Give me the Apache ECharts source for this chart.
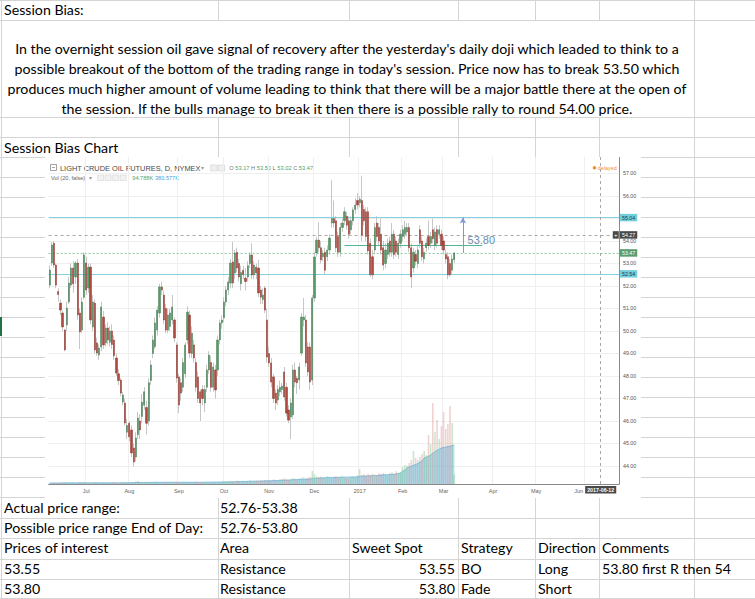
<!DOCTYPE html>
<html>
<head>
<meta charset="utf-8">
<script src="https://cdn.jsdelivr.net/npm/echarts@6/dist/echarts.min.js"></script>
<style>
html,body{margin:0;padding:0;background:#fff;}
#page{position:relative;width:755px;height:599px;overflow:hidden;background:#fff;}
.h{position:absolute;height:1px;background:#d4d4d4;}
.v{position:absolute;width:1px;background:#d4d4d4;}
.t{position:absolute;font-family:Lato,'Noto Sans',sans-serif;font-size:13px;line-height:20px;color:#000;white-space:nowrap;}
.r{text-align:right;}
#para{left:0;top:39px;width:694px;text-align:center;}
#chart{position:absolute;left:45px;top:157px;width:596px;height:341px;background:#fff;z-index:2;}
#sel{position:absolute;left:0;top:317px;width:2px;height:19px;background:#217346;}
#measure{position:absolute;visibility:hidden;}
</style>
</head>
<body>
<div id="page">
  <div id="lines"></div>
  <div class="t" style="left:4px;top:0px;">Session Bias:</div>
  <div class="t" id="para">In the overnight session oil gave signal of recovery after the yesterday's daily doji which leaded to think to a<br>possible breakout of the bottom of the trading range in today's session. Price now has to break 53.50 which<br>produces much higher amount of volume leading to think that there will be a major battle there at the open of<br>the session. If the bulls manage to break it then there is a possible rally to round 54.00 price.</div>
  <div class="t" style="left:4px;top:138px;">Session Bias Chart</div>

  <div class="t" style="left:4px;top:498px;">Actual price range:</div>
  <div class="t" style="left:220px;top:498px;">52.76-53.38</div>
  <div class="t" style="left:4px;top:518px;">Possible price range End of Day:</div>
  <div class="t" style="left:220px;top:518px;">52.76-53.80</div>
  <div class="t" style="left:4px;top:538px;">Prices of interest</div>
  <div class="t" style="left:220px;top:538px;">Area</div>
  <div class="t" style="left:352px;top:538px;">Sweet Spot</div>
  <div class="t" style="left:461px;top:538px;">Strategy</div>
  <div class="t" style="left:538px;top:538px;">Direction</div>
  <div class="t" style="left:602px;top:538px;">Comments</div>
  <div class="t" style="left:4px;top:559px;">53.55</div>
  <div class="t" style="left:220px;top:559px;">Resistance</div>
  <div class="t r" style="left:350px;width:105px;top:559px;">53.55</div>
  <div class="t" style="left:461px;top:559px;">BO</div>
  <div class="t" style="left:538px;top:559px;">Long</div>
  <div class="t" style="left:602px;top:559px;">53.80 first R then 54</div>
  <div class="t" style="left:4px;top:579px;">53.80</div>
  <div class="t" style="left:220px;top:579px;">Resistance</div>
  <div class="t r" style="left:350px;width:105px;top:579px;">53.80</div>
  <div class="t" style="left:461px;top:579px;">Fade</div>
  <div class="t" style="left:538px;top:579px;">Short</div>

  <div id="sel"></div>
  <div id="chart"></div>
  <span class="t" id="measure">In the overnight session oil gave signal of recovery after the yesterday's daily doji which leaded to think to a</span>
</div>
<script>
// ---------------- spreadsheet grid (layout only) ----------------
(function(){
  const lines = document.getElementById('lines');
  const rows = [0, 20, 117, 137, 157, 177, 197, 217, 237, 257, 277, 297, 317, 337, 357, 377, 397, 417, 437, 457, 477, 497, 518, 538, 559, 579, 598];
  rows.forEach(y => { const d = document.createElement('div'); d.className = 'h'; d.style.left = '0px'; d.style.width = '755px'; d.style.top = y + 'px'; lines.appendChild(d); });
  const cols = [218, 349, 458, 535, 599];
  const segs = [[0, 20], [117, 157], [497, 599]];
  cols.forEach(x => segs.forEach(s => { const d = document.createElement('div'); d.className = 'v'; d.style.left = x + 'px'; d.style.top = s[0] + 'px'; d.style.height = (s[1] - s[0]) + 'px'; lines.appendChild(d); }));
  [1, 694].forEach(x => { const d = document.createElement('div'); d.className = 'v'; d.style.left = x + 'px'; d.style.top = '0px'; d.style.height = '599px'; lines.appendChild(d); });
  const m = document.getElementById('measure');
  const w = m.getBoundingClientRect().width;
  const size = 13 * 664 / w;
  document.querySelectorAll('.t').forEach(el => { el.style.fontSize = size.toFixed(2) + 'px'; });
})();

// ---------------- data ----------------
const firstTradeDay = '2016-06-08';
const axisLastDay = '2017-06-22';
const marketHolidays = ['2016-07-04', '2016-09-05', '2016-11-24', '2016-12-26', '2017-01-02', '2017-01-16', '2017-02-20'];
const monthNames = ['Jan', 'Feb', 'Mar', 'Apr', 'May', 'Jun', 'Jul', 'Aug', 'Sep', 'Oct', 'Nov', 'Dec'];
const priceTicks = [44, 45, 46, 47, 48, 49, 50, 51, 52, 53, 54, 55, 56, 57];

const openPrices = [
52.04,53.02,53.9,52.93,51.75,51.24,50.8,50.04,50.27,51.29,
52.04,52.8,52.4,53.02,50.8,50.04,51.5,53.02,51.91,52.84,
50.18,51.24,49.47,48.93,49.29,50.62,49.47,50.13,49.5,50.0,
49.6,48.8,48.1,47.82,46.84,46.8,45.5,45.9,45.6,44.8,
44.4,45.4,46.0,46.2,46.7,46.6,46.0,47.8,49.0,49.3,
50.04,50.8,51.96,51.6,51.0,50.04,50.2,50.49,50.49,49.38,
47.96,47.7,47.5,48.1,49.6,50.71,49.0,49.38,48.6,47.96,
47.3,47.4,46.8,47.5,48.27,48.6,47.5,48.27,48.27,49.6,
50.36,50.58,51.29,51.82,52.13,53.07,52.58,53.5,53.0,52.1,
52.7,52.35,52.4,53.0,53.38,52.5,52.84,52.8,51.82,51.4,
51.91,50.49,49.0,48.58,47.96,47.24,46.93,47.3,47.4,48.18,
47.5,46.49,46.18,46.27,48.27,47.9,47.82,
49.02,50.49,50.49,49.29,49.29,47.82,51.47,53.47,54.04,53.7,
53.3,53.5,53.3,53.6,54.8,55.0,54.9,54.2,53.5,54.6,
54.9,55.1,54.9,54.5,54.9,55.4,55.8,55.7,55.8,55.4,
55.3,55.3,53.9,53.3,53.6,54.8,54.6,54.3,53.7,53.0,
53.4,54.0,53.5,54.3,54.0,53.4,53.9,54.2,54.3,54.4,
54.6,53.7,52.8,53.4,53.0,54.5,54.0,53.2,53.7,54.2,
53.9,54.5,53.8,54.5,54.3,54.3,54.0,53.4,53.3,53.0,
52.7,53.17];

const closePrices = [
52.71,53.82,52.93,52.04,51.62,50.93,50.18,49.16,51.02,52.13,
52.8,52.1,53.02,50.71,49.96,51.29,53.38,51.82,52.84,50.49,
51.29,49.16,49.02,49.24,51.07,49.38,50.13,49.6,50.0,49.4,
48.9,48.13,47.8,47.24,47.16,45.91,45.8,45.3,44.58,44.18,
45.24,46.13,45.6,46.84,47.3,45.9,47.7,48.49,49.6,50.36,
50.93,51.96,51.82,50.49,50.04,50.71,50.8,51.07,49.69,47.91,
46.71,47.24,48.6,49.38,50.84,49.02,49.9,48.8,47.5,47.0,
46.8,47.0,47.4,48.27,48.93,47.5,48.4,47.38,49.6,50.36,
50.49,51.29,51.82,52.18,53.02,52.13,53.47,52.8,52.4,52.6,
52.5,52.2,52.9,53.38,52.49,52.93,52.58,51.69,51.5,51.6,
50.93,48.84,48.58,47.73,47.0,46.8,47.4,47.5,47.55,47.07,
46.35,46.04,46.8,48.27,47.73,47.7,48.4,
50.62,50.62,48.58,48.18,47.73,51.47,53.29,54.04,53.7,53.16,
53.45,52.7,53.6,54.13,55.0,54.8,53.7,53.5,54.6,54.8,
55.3,54.7,54.3,54.9,55.38,55.6,55.6,55.85,54.27,54.9,
54.2,53.56,52.5,52.5,54.6,54.2,54.0,53.6,52.93,53.6,
53.9,53.5,54.3,53.4,53.5,53.9,54.3,54.5,54.6,54.6,
53.7,52.4,53.5,53.1,53.6,53.9,53.3,53.5,53.9,53.8,
54.2,54.1,54.4,53.9,54.5,53.8,53.6,53.2,52.5,52.5,
53.2,53.47];

const lowPrices = [
51.9,52.9,52.8,51.9,51.3,50.7,50.0,49.1,50.0,51.2,
51.9,51.7,52.1,50.5,49.2,49.9,51.4,51.6,51.7,50.3,
50.0,49.0,48.9,48.7,49.1,49.2,49.3,49.4,49.3,49.2,
48.7,48.0,47.6,47.1,46.7,45.8,45.2,45.1,44.4,43.97,
44.2,45.2,45.2,45.9,46.5,45.4,45.8,47.6,48.8,49.2,
49.8,50.6,51.6,50.3,49.9,49.9,50.0,50.3,49.5,47.7,
46.35,46.9,47.3,47.9,49.4,48.8,48.8,48.6,47.3,46.8,
46.0,46.7,46.4,47.3,48.1,47.3,47.3,47.0,48.0,49.4,
50.1,50.4,51.1,51.6,51.9,51.9,52.3,52.6,52.2,51.8,
52.3,51.8,52.2,52.8,52.3,52.3,52.3,51.5,51.2,51.2,
50.8,48.6,48.4,47.5,46.8,46.49,46.7,47.1,47.2,46.9,
46.2,45.9,45.2,46.1,47.5,47.2,47.4,
48.9,50.2,48.4,48.0,47.38,47.6,51.3,53.3,53.5,53.0,
53.1,52.5,53.1,53.4,54.6,54.6,53.5,53.3,53.3,54.4,
54.7,54.5,54.1,54.3,54.7,55.2,55.4,55.5,54.0,54.7,
54.0,53.4,52.4,52.3,53.4,54.0,53.8,53.4,52.7,52.8,
53.2,53.3,53.3,53.2,53.3,53.2,53.7,54.0,54.1,54.2,
53.5,51.9,52.6,52.9,52.8,53.7,53.1,53.0,53.5,53.6,
53.7,53.9,53.6,53.7,54.1,53.6,53.4,53.0,52.3,52.4,
52.5,53.02];

const highPrices = [
52.9,53.95,54.0,53.0,51.9,51.4,50.9,50.1,51.3,52.4,
53.0,53.1,53.1,53.2,51.0,51.5,53.5,53.3,53.0,53.0,
51.6,51.4,49.7,49.4,51.3,50.9,50.3,50.4,50.2,50.3,
49.8,49.0,48.3,47.9,47.3,47.0,46.1,46.0,45.8,45.0,
45.5,46.4,46.3,47.2,47.5,46.9,47.9,48.7,49.8,50.6,
51.1,52.1,52.2,51.8,51.2,51.0,51.0,51.6,50.6,49.5,
48.1,47.9,48.8,49.5,51.1,50.9,50.2,49.6,48.8,48.2,
47.4,47.6,47.6,48.5,49.1,48.9,48.6,48.5,49.8,50.5,
50.7,51.5,52.0,52.4,53.2,53.96,53.6,53.7,53.2,52.9,
52.9,52.8,53.1,53.5,53.9,53.1,53.0,53.16,52.0,51.9,
52.0,51.0,49.3,48.8,48.1,47.4,47.6,47.8,47.7,48.4,
47.7,46.7,47.0,48.5,48.6,48.0,48.6,
50.8,51.47,50.7,49.5,49.5,51.6,53.5,54.2,54.84,54.0,
53.6,53.7,53.8,54.3,56.7,55.8,55.1,54.4,54.8,55.0,
55.5,55.3,55.1,55.1,55.5,55.9,56.13,56.0,56.9,55.6,
55.5,55.5,54.1,53.6,54.8,55.1,54.8,55.0,54.0,53.9,
54.1,54.2,54.8,54.5,54.2,54.1,54.5,54.7,54.9,54.8,
54.8,53.9,53.7,53.6,53.8,54.7,54.2,53.7,54.1,54.9,
54.4,55.0,54.6,54.7,54.7,54.5,54.2,53.6,53.5,53.2,
53.4,53.5];

// volume in thousands of contracts, and the 20-bar volume average
const volumeK = [
12,10,14,9,11,13,10,15,12,9,11,14,10,12,16,11,13,
10,12,9,11,14,12,10,13,15,11,12,10,14,16,12,11,13,15,12,14,
16,14,18,24,29,20,17,15,19,16,14,18,21,17,15,13,16,18,14,17,19,15,18,
16,14,17,19,15,18,20,16,22,18,15,17,21,19,16,18,24,20,17,19,22,
25,29,22,31,26,24,34,29,27,31,25,28,36,30,27,33,29,35,31,38,34,
39,35,44,40,37,47,50,55,45,41,49,58,52,47,55,61,66,53,60,70,127,
98,74,66,72,60,64,78,70,62,68,75,66,72,80,64,60,57,70,76,68,86,
146,90,95,82,98,88,101,92,86,104,97,108,99,90,105,114,101,124,111,118,
166,185,176,205,234,322,254,234,264,293,322,283,478,390,790,507,625,439,566,
703,537,586,761,595,94.788];

const volumeMaK = [
10,10,10,10,10,10,11,11,11,11,11,11,11,11,12,12,12,
12,12,12,12,12,12,12,12,12,12,12,12,12,12,12,12,12,13,13,13,
13,13,14,14,15,15,15,16,16,16,16,16,17,17,17,17,17,17,17,17,17,17,17,
17,17,17,17,17,17,17,17,17,17,17,17,18,18,18,18,18,18,19,19,19,
20,20,21,21,22,22,23,24,24,25,25,26,26,27,28,28,29,29,30,30,31,
31,32,33,33,34,35,36,37,38,39,40,41,42,43,44,45,46,47,48,49,53,
56,57,58,59,60,61,62,63,64,64,65,65,66,66,67,67,68,68,69,69,70,
75,76,77,78,79,80,81,82,83,85,87,88,89,90,92,93,95,98,101,104,
127,135,156,165,174,182,190,200,212,226,254,262,271,283,300,315,330,340,351,
356,360,365,370,375,380.577];

// drawn levels and annotations
const upperRangeLine = 55.04;
const lowerRangeLine = 52.54;
const crosshairPrice = 54.27;
const crosshairDate = '2017-06-12';
const targetPrice = 53.80;
const targetFrom = '2016-12-21';
const targetTo = '2017-03-27';
const arrowDate = '2017-03-14';
const plusMarkDate = '2017-06-21';

// ---------------- derived structures ----------------
function tradingDays(first, last, holidays) {
  const out = [];
  let t = Date.parse(first + 'T00:00:00Z');
  const end = Date.parse(last + 'T00:00:00Z');
  while (t <= end) {
    const d = new Date(t);
    const s = d.toISOString().slice(0, 10);
    const wd = d.getUTCDay();
    if (wd !== 0 && wd !== 6 && holidays.indexOf(s) < 0) out.push(s);
    t += 86400000;
  }
  return out;
}
const dates = tradingDays(firstTradeDay, axisLastDay, marketHolidays);
const isMonthStart = i => i > 0 && dates[i].slice(0, 7) !== dates[i - 1].slice(0, 7);
const monthLabel = v => {
  const m = +v.slice(5, 7);
  const txt = m === 1 ? v.slice(0, 4) : monthNames[m - 1];
  return v.slice(0, 7) === crosshairDate.slice(0, 7) ? '{s|' + txt + '}' : txt;
};

const n = openPrices.length;
const wickData = [], bodyData = [], upFlags = [];
for (let i = 0; i < n; i++) {
  const o = openPrices[i], c = closePrices[i];
  wickData.push([o, c, lowPrices[i], highPrices[i]]);
  bodyData.push([o, c, Math.min(o, c), Math.max(o, c)]);
  upFlags.push(c >= o);
}
const last = n - 1;
const lastClose = closePrices[last];

// ---------------- chart ----------------
const chart = echarts.init(document.getElementById('chart'), null, { renderer: 'svg' });
const FONT = "'Liberation Sans', Arial, sans-serif";
const green = '#5a9a69', red = '#b04a3f';
const boxLabel = (bg, fg) => ({
  show: true, position: 'end', distance: 1,
  formatter: p => (+p.value).toFixed(2),
  backgroundColor: bg, color: fg, padding: [1.5, 2, 1, 2], fontSize: 5.3, fontFamily: FONT
});

function levelSeries(name, value, color, type, width, bg, fg, z) {
  return {
    name: name, type: 'line', xAxisIndex: 0, yAxisIndex: 0, data: [], z: z, silent: true,
    markLine: {
      silent: true, symbol: ['none', 'none'], animation: false, precision: 2,
      lineStyle: { color: color, type: type, width: width, opacity: 1 },
      label: boxLabel(bg, fg),
      data: [{ yAxis: value }]
    }
  };
}

const option = {
  animation: false,
  backgroundColor: '#ffffff',
  textStyle: { fontFamily: FONT },
  grid: [
    { left: 3.6, right: 22, top: 0, bottom: 14 },
    { left: 3.6, right: 22, bottom: 14, height: 100 }
  ],
  xAxis: [
    {
      type: 'category', gridIndex: 0, data: dates, boundaryGap: true,
      axisLine: { show: false }, axisTick: { show: false }, axisLabel: { show: false },
      splitLine: { show: true, interval: (i) => isMonthStart(i), lineStyle: { color: '#efefef', width: 1 } }
    },
    {
      type: 'category', gridIndex: 1, data: dates, boundaryGap: true,
      axisLine: { show: true, lineStyle: { color: '#8a8a8a', width: 1 } },
      axisTick: { show: false },
      axisLabel: {
        show: true, interval: (i) => isMonthStart(i), formatter: monthLabel, fontSize: 5.5, color: '#666', margin: 4,
        rich: { s: { fontSize: 5.5, color: '#666', padding: [0, 14, 0, 0] } }
      },
      splitLine: { show: false }
    }
  ],
  yAxis: [
    {
      type: 'value', gridIndex: 0, position: 'right', min: 43.2, max: 57.733, scale: true,
      axisLine: { show: true, lineStyle: { color: '#8a8a8a', width: 1 } },
      axisTick: { show: false, customValues: priceTicks },
      axisLabel: { customValues: priceTicks, formatter: v => (+v).toFixed(2), fontSize: 5.3, color: '#555', margin: 4 },
      splitLine: { show: true, lineStyle: { color: '#efefef', width: 1 } }
    },
    { type: 'value', gridIndex: 1, min: 0, max: 976, show: false }
  ],
  series: [
    {
      name: 'volume MA', type: 'line', xAxisIndex: 1, yAxisIndex: 1, data: volumeMaK,
      showSymbol: false, symbol: 'none', z: 1,
      lineStyle: { color: '#6fbde6', width: 0.8 },
      areaStyle: { color: 'rgba(120,196,236,0.8)' }
    },
    {
      name: 'volume', type: 'bar', xAxisIndex: 1, yAxisIndex: 1, data: volumeK, barWidth: 1.6, z: 2,
      itemStyle: { color: p => upFlags[p.dataIndex] ? 'rgba(110,180,120,0.35)' : 'rgba(205,110,100,0.3)' }
    },
    levelSeries('range top', upperRangeLine, '#84d2df', 'solid', 1, '#74cfdc', '#1e3b40', 3),
    levelSeries('range bottom', lowerRangeLine, '#84d2df', 'solid', 1, '#74cfdc', '#1e3b40', 3),
    levelSeries('last price', lastClose, '#86cb98', [2, 2], 1, '#5c9d6d', '#ffffff', 3),
    levelSeries('crosshair price', crosshairPrice, '#a8a8a8', [3, 3], 1, '#4a4a4a', '#ffffff', 3),
    {
      name: 'wicks', type: 'candlestick', xAxisIndex: 0, yAxisIndex: 0, data: wickData, barWidth: 0.4, z: 4,
      itemStyle: { color: '#c6c6c6', color0: '#c6c6c6', borderColor: '#c6c6c6', borderColor0: '#c6c6c6', borderWidth: 1 }
    },
    {
      name: 'bodies', type: 'candlestick', xAxisIndex: 0, yAxisIndex: 0, data: bodyData, barWidth: 1.7, z: 5,
      itemStyle: { color: green, color0: red, borderColor: '#3e7b4e', borderColor0: '#8e3329', borderWidth: 0.5 },
      markLine: {
        silent: true, symbol: ['none', 'none'], precision: 2, animation: false,
        data: [
          {
            xAxis: crosshairDate,
            lineStyle: { color: '#a8a8a8', type: [3, 3], width: 1 },
            label: {
              show: true, position: 'start', distance: 2, formatter: crosshairDate,
              backgroundColor: '#4a4a4a', color: '#fff', padding: [1.5, 2, 1, 2], fontSize: 5.3, fontWeight: 'bold'
            }
          },
          [
            { coord: [targetFrom, targetPrice], symbol: 'none', lineStyle: { color: '#4fb898', type: 'solid', width: 1 } },
            { coord: [targetTo, targetPrice], symbol: 'none', lineStyle: { color: '#4fb898', type: 'solid', width: 1 }, label: { show: false } }
          ],
          [
            { coord: [arrowDate, lastClose], symbol: 'none', lineStyle: { color: '#7f99d8', type: 'solid', width: 1 } },
            { coord: [arrowDate, upperRangeLine], symbol: 'arrow', symbolSize: [5, 6], lineStyle: { color: '#7f99d8', type: 'solid', width: 1 }, label: { show: false } }
          ]
        ]
      },
      markPoint: {
        silent: true, animation: false,
        data: [
          {
            coord: [targetTo, targetPrice], symbol: 'circle', symbolSize: 0,
            label: { show: true, position: 'inside', offset: [-1, -5], formatter: targetPrice.toFixed(2), fontSize: 11, color: '#6a8db1', fontFamily: FONT }
          },
          {
            coord: [plusMarkDate, crosshairPrice], symbol: 'rect', symbolSize: [6, 7.5],
            itemStyle: { color: '#4a4a4a' },
            label: { show: true, position: 'inside', formatter: '+', fontSize: 6, color: '#fff' }
          }
        ]
      }
    }
  ],
  graphic: [
    { type: 'rect', x: 5.5, y: 7.5, shape: { width: 6, height: 6 }, style: { fill: '#fff', stroke: '#8c8c8c', lineWidth: 0.8 } },
    { type: 'line', x: 0, y: 0, shape: { x1: 7, y1: 10.5, x2: 10, y2: 10.5 }, style: { stroke: '#8c8c8c', lineWidth: 0.8 } },
    { type: 'text', x: 15, y: 11, style: { text: 'LIGHT CRUDE OIL FUTURES, D, NYMEX', fontSize: 7.4, fill: '#4a4a4a', fontFamily: FONT, verticalAlign: 'middle', align: 'left' } },
    { type: 'text', x: 156, y: 11, style: { text: '▾', fontSize: 6, fill: '#9a9a9a', verticalAlign: 'middle', align: 'left' } },
    { type: 'rect', x: 165.7, y: 8, shape: { width: 6.5, height: 6 }, style: { fill: '#efefef', stroke: '#d0d0d0', lineWidth: 0.6 } },
    { type: 'rect', x: 173.3, y: 8, shape: { width: 6.5, height: 6 }, style: { fill: '#efefef', stroke: '#d0d0d0', lineWidth: 0.6 } },
    {
      type: 'text', x: 184.3, y: 11,
      style: {
        text: '{l|O} {g|' + openPrices[last].toFixed(2) + '} {l|H} {g|' + highPrices[last].toFixed(2) + '} {l|L} {g|' + lowPrices[last].toFixed(2) + '} {l|C} {g|' + closePrices[last].toFixed(2) + '}',
        fontSize: 5.7, fontFamily: FONT, verticalAlign: 'middle', align: 'left',
        rich: { l: { fill: '#777', fontSize: 5.7, fontFamily: FONT }, g: { fill: '#53a56c', fontSize: 5.7, fontFamily: FONT } }
      }
    },
    { type: 'text', x: 6, y: 20.7, style: { text: 'Vol (20, false)', fontSize: 5.6, fill: '#666', fontFamily: FONT, verticalAlign: 'middle', align: 'left' } },
    { type: 'text', x: 43.5, y: 20.7, style: { text: '▾', fontSize: 5.5, fill: '#9a9a9a', verticalAlign: 'middle', align: 'left' } },
    { type: 'rect', x: 52.7, y: 18, shape: { width: 6, height: 5.5 }, style: { fill: '#f2f2f2', stroke: '#d4d4d4', lineWidth: 0.6 } },
    { type: 'rect', x: 60.2, y: 18, shape: { width: 6, height: 5.5 }, style: { fill: '#f2f2f2', stroke: '#d4d4d4', lineWidth: 0.6 } },
    { type: 'rect', x: 67.7, y: 18, shape: { width: 6, height: 5.5 }, style: { fill: '#f2f2f2', stroke: '#d4d4d4', lineWidth: 0.6 } },
    { type: 'rect', x: 75.2, y: 18, shape: { width: 6, height: 5.5 }, style: { fill: '#f2f2f2', stroke: '#d4d4d4', lineWidth: 0.6 } },
    { type: 'text', x: 87.3, y: 20.7, style: { text: volumeK[last].toFixed(3) + 'K', fontSize: 5.6, fill: '#53a56c', fontFamily: FONT, verticalAlign: 'middle', align: 'left' } },
    { type: 'text', x: 110, y: 20.7, style: { text: volumeMaK[last].toFixed(3) + 'K', fontSize: 5.6, fill: '#3d9fe0', fontFamily: FONT, verticalAlign: 'middle', align: 'left' } },
    { type: 'circle', x: 549.5, y: 10.7, shape: { r: 1.8 }, style: { fill: '#f5922a' } },
    { type: 'text', x: 552.8, y: 10.9, style: { text: 'delayed', fontSize: 5.4, fill: '#f5922a', fontFamily: FONT, verticalAlign: 'middle', align: 'left' } }
  ]
};
chart.setOption(option);
</script>
</body>
</html>
